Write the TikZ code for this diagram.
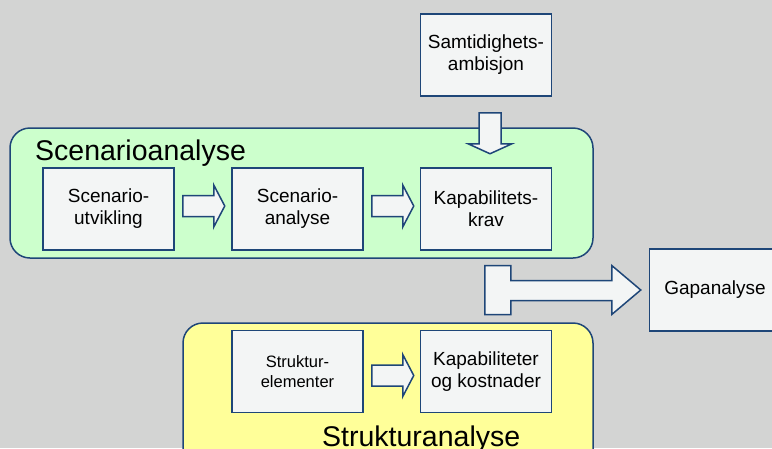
\documentclass[tikz,border=0pt]{standalone}
\usepackage{fontspec}
\setmainfont{Liberation Sans}
\usepackage{tikz}
\usetikzlibrary{arrows.meta}
\usepackage{xcolor}
\definecolor{kant}{RGB}{30,70,120}
\definecolor{boksfarge}{RGB}{243,245,245}
\definecolor{gronn}{RGB}{204,255,204}
\definecolor{gul}{RGB}{255,255,153}
\definecolor{bakgrunn}{RGB}{211,212,211}

\newcommand{\hpil}[3]{\draw[Pil] ([shift={(8,#3-10.5)}]#1.east) -- ++(31,0) -- ++(0,-10.5) -- ++(11,21) -- ++(-11,21) -- ++(0,-10.5) -- ++(-31,0) -- cycle;}

\begin{document}
\begin{tikzpicture}[x=1pt,y=-1pt,every node/.style={font=\fontsize{19}{22}\selectfont}]
  \tikzstyle{Boks}=[draw=kant, line width=1.5pt, fill=boksfarge, minimum width=131pt, minimum height=82pt, align=center, inner sep=2pt]
  \tikzstyle{Gruppe}=[draw=kant, line width=1.5pt, rounded corners=20pt]
  \tikzstyle{Tittel}=[font=\fontsize{28.5}{32}\selectfont, anchor=base west, inner sep=0pt]
  \tikzstyle{Pil}=[draw=kant, line width=1.5pt, fill=boksfarge, line join=miter]
  \clip (0,0) rectangle (772,448);
  \fill[bakgrunn] (0,0) rectangle (772,448);

  \draw[Gruppe, fill=gronn] (10,128) rectangle (593,258);
  \draw[Gruppe, fill=gul] (183,323) rectangle (593,480);
  \node[Tittel] (scentittel) at (35,160) {Scenarioanalyse};
  \node[Tittel] (struktittel) at (322,446) {Strukturanalyse};

  \node[Boks] (samt) at (486,55) {Samtidighets-\\ambisjon};
  \node[Boks] (scenutv) at (108.5,209) {Scenario-\\utvikling};
  \node[Boks] (scenana) at (297.5,209) {Scenario-\\analyse};
  \node[Boks] (kapkrav) at (486,209) {Kapabilitets-\\krav};
  \node[Boks, font=\fontsize{16.5}{20}\selectfont] (strukel) at (297.5,371.5) {Struktur-\\elementer};
  \node[Boks] (kapkost) at (486,371.5) {Kapabiliteter\\og kostnader};
  \node[Boks] (gap) at (715,290) {Gapanalyse};

  \hpil{scenutv}{scenana}{-3}
  \hpil{scenana}{kapkrav}{-3}
  \hpil{strukel}{kapkost}{4}
  \draw[Pil] ([shift={(-7,16)}]samt.south) -- ++(0,31) -- ++(-11,0) -- ++(22,10) -- ++(22,-10) -- ++(-11,0) -- ++(0,-31) -- cycle;
  \draw[Pil] ([xshift=-8pt]gap.west) -- ++(-29,-24.5) -- ++(0,15) -- ++(-101,0) -- ++(0,-15) -- ++(-26,0) -- ++(0,49) -- ++(26,0) -- ++(0,-14) -- ++(101,0) -- ++(0,14) -- cycle;
\end{tikzpicture}
\end{document}
